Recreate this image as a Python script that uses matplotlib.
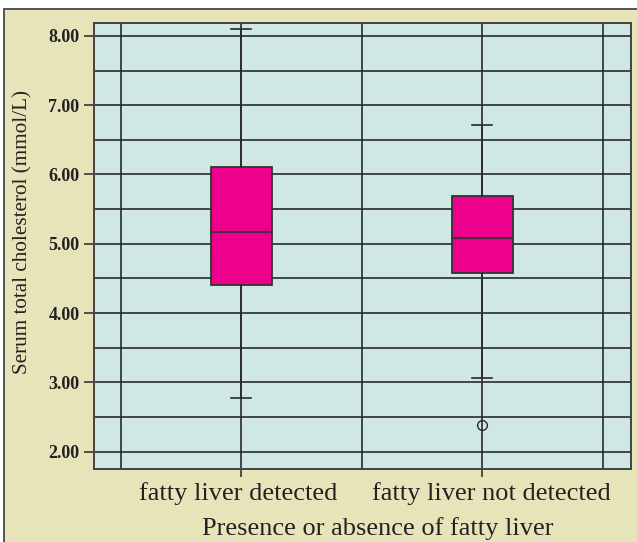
import matplotlib
matplotlib.use("Agg")
import matplotlib.pyplot as plt
from matplotlib.patches import Rectangle
from matplotlib.transforms import ScaledTranslation

# ---- data ----
categories = ["fatty liver detected", "fatty liver not detected"]
q1 = [4.40, 4.58]
median = [5.17, 5.08]
q3 = [6.11, 5.69]
whisker_low = [2.77, 3.06]
whisker_high = [8.10, 6.71]
outliers = [[], [2.38]]
y_ticks = [2.0, 3.0, 4.0, 5.0, 6.0, 7.0, 8.0]
y_tick_labels = ["2.00", "3.00", "4.00", "5.00", "6.00", "7.00", "8.00"]

W, H = 637, 542
fig = plt.figure(figsize=(W / 100, H / 100), dpi=100)
fig.patch.set_facecolor("white")
# beige panel with border
fig.patches.append(Rectangle((4 / W, -0.05), 1.1, 1 - 9 / H + 0.05, transform=fig.transFigure,
                             facecolor="#e8e4b9", edgecolor="#555555", linewidth=1.4, zorder=-10))

ax = fig.add_axes([94 / W, 1 - 469 / H, (631 - 94) / W, (469 - 22.7) / H])
ax.set_zorder(1)
ax.set_facecolor("#cfe8e4")

serif = "Liberation Serif"
txt = "#222222"

stats = []
for i in range(len(categories)):
    stats.append(dict(med=median[i], q1=q1[i], q3=q3[i], whislo=whisker_low[i],
                      whishi=whisker_high[i], fliers=outliers[i], label=categories[i]))

# grid
for yv in [2.0 + 0.5 * k for k in range(13)]:
    ax.axhline(yv, color="#2a2a2a", lw=1.2, zorder=1)
for xv in [0.5, 1.0, 1.5, 2.0, 2.5]:
    ax.axvline(xv, color="#2a2a2a", lw=1.2, zorder=1)

ax.bxp(stats, positions=[1, 2], widths=0.253, capwidths=0.083, patch_artist=True,
       boxprops=dict(facecolor="#ec008c", edgecolor="#333333", linewidth=1.3),
       medianprops=dict(color="#333333", linewidth=1.3),
       whiskerprops=dict(color="#2a2a2a", linewidth=1.2),
       capprops=dict(color="#2a2a2a", linewidth=1.2),
       flierprops=dict(marker="o", markerfacecolor="none", markeredgecolor="#2a2a2a",
                       markersize=7, markeredgewidth=1.0),
       zorder=3)

ax.set_xlim(0.39, 2.618)
ax.set_ylim(1.75, 8.19)

ax.set_yticks(y_ticks)
ax.set_yticklabels(y_tick_labels, fontfamily=serif, fontsize=13, fontweight="bold", color=txt)
ax.tick_params(axis="y", length=7.5, width=1.2, color="#333333", pad=3)

tick_len_pt = 5.8
ax.set_xticks([1, 2])
ax.set_xticklabels(categories, fontfamily=serif, fontsize=19, color=txt)
ax.tick_params(axis="x", length=tick_len_pt, width=1.2, color="#333333", pad=0)
anchor_px = 469 + tick_len_pt * 100 / 72
offsets = [(-2.5, -(500 - anchor_px)), (9.0, -(500 - anchor_px))]
for lab, (dx, dy) in zip(ax.get_xticklabels(), offsets):
    lab.set_va("baseline")
    lab.set_transform(lab.get_transform() + ScaledTranslation(dx / 100, dy / 100, fig.dpi_scale_trans))

for s in ax.spines.values():
    s.set_color("#444444")
    s.set_linewidth(1.4)

ax.set_xlabel("Presence or absence of fatty liver", fontfamily=serif, fontsize=19, color=txt)
ax.xaxis.set_label_coords((377.5 - 94) / 537, -(535 - 469) / 446.3)
ax.xaxis.label.set_va("baseline")
ax.set_ylabel("Serum total cholesterol (mmol/L)", fontfamily=serif, fontsize=15.2, color=txt)
ax.yaxis.set_label_coords((23 - 94) / 537, (469 - 231.5) / 446.3)
ax.yaxis.label.set_va("center")

fig.savefig("out.png", dpi=100)
